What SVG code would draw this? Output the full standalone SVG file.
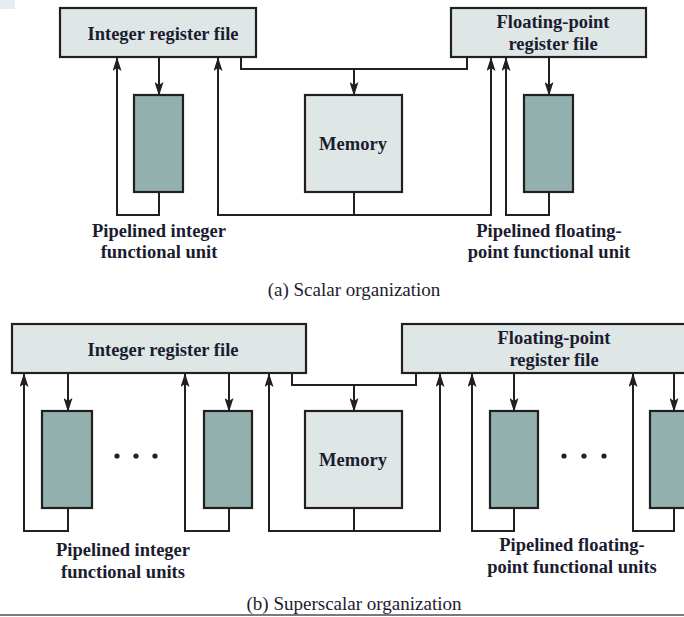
<svg xmlns="http://www.w3.org/2000/svg" width="684" height="617" viewBox="0 0 684 617">
<style>
.box{fill:#dfe7e6;stroke:#231f20;stroke-width:2.2}
.unit{fill:#92b1ae;stroke:#231f20;stroke-width:2.2}
.ln{fill:none;stroke:#231f20;stroke-width:2}
.arr{marker-end:url(#ah)}
.t{font-family:"Liberation Serif",serif;font-weight:bold;font-size:18.5px;fill:#1c1c30;text-anchor:middle}
.cap{font-family:"Liberation Serif",serif;font-size:19px;fill:#1c1c30;text-anchor:middle}
.dot{fill:#231f20}
</style>
<defs>
<marker id="ah" markerWidth="14" markerHeight="9" refX="13" refY="4.5" orient="auto" markerUnits="userSpaceOnUse" viewBox="0 0 14 9">
<path d="M0,0 L14,4.5 L0,9 L3,4.5 Z" fill="#231f20"/>
</marker>
</defs>
<rect x="0" y="0" width="15" height="9" fill="#e6ecf2"/>
<g id="connectors">
<!-- (a) -->
<path class="ln arr" d="M159,57 V95"/>
<path class="ln arr" d="M159,192 V215 H117 V58"/>
<path class="ln arr" d="M354,192 V215 H218 V58"/>
<path class="ln arr" d="M354,215 H491 V58"/>
<path class="ln" d="M241,57 V69 H467 V57"/>
<path class="ln arr" d="M354,69 V95"/>
<path class="ln arr" d="M549,192 V215 H506 V58"/>
<path class="ln arr" d="M549,57 V95"/>
<!-- (b) -->
<path class="ln arr" d="M68,373 V411"/>
<path class="ln arr" d="M68,508 V531 H24 V374"/>
<path class="ln arr" d="M229,373 V411"/>
<path class="ln arr" d="M229,508 V531 H185 V374"/>
<path class="ln arr" d="M354,508 V531 H269 V374"/>
<path class="ln arr" d="M354,531 H440 V374"/>
<path class="ln" d="M292,373 V385 H416 V373"/>
<path class="ln arr" d="M354,385 V411"/>
<path class="ln arr" d="M514,373 V411"/>
<path class="ln arr" d="M514,508 V531 H472 V374"/>
<path class="ln arr" d="M674,373 V411"/>
<path class="ln arr" d="M674,508 V531 H633 V374"/>
</g>
<g id="a-int-reg"><rect class="box" x="60" y="8" width="196" height="49"/><text class="t" x="163" y="40">Integer register file</text></g>
<g id="a-fp-reg"><rect class="box" x="451" y="8" width="195" height="49"/><text class="t" x="553" y="28">Floating-point</text><text class="t" x="553" y="50">register file</text></g>
<g id="a-int-unit"><rect class="unit" x="134" y="95" width="49" height="97"/></g>
<g id="a-memory"><rect class="box" x="305" y="95" width="97" height="97"/><text class="t" x="353" y="150">Memory</text></g>
<g id="a-fp-unit"><rect class="unit" x="524" y="95" width="49" height="97"/></g>
<g id="a-labels">
<text class="t" x="159" y="237">Pipelined integer</text>
<text class="t" x="159" y="258">functional unit</text>
<text class="t" x="549" y="237">Pipelined floating-</text>
<text class="t" x="549" y="258">point functional unit</text>
<text class="cap" x="354" y="296">(a) Scalar organization</text>
</g>
<g id="b-int-reg"><rect class="box" x="12" y="324" width="294" height="49"/><text class="t" x="163" y="356">Integer register file</text></g>
<g id="b-fp-reg"><rect class="box" x="402" y="324" width="290" height="49"/><text class="t" x="554" y="344">Floating-point</text><text class="t" x="554" y="366">register file</text></g>
<g id="b-int-unit1"><rect class="unit" x="42" y="411" width="50" height="97"/></g>
<g id="b-int-unit2"><rect class="unit" x="204" y="411" width="48" height="97"/></g>
<g id="b-memory"><rect class="box" x="305" y="411" width="97" height="97"/><text class="t" x="353" y="466">Memory</text></g>
<g id="b-fp-unit1"><rect class="unit" x="490" y="411" width="48" height="97"/></g>
<g id="b-fp-unit2"><rect class="unit" x="650" y="411" width="48" height="97"/></g>
<g id="b-dots">
<circle class="dot" cx="117" cy="456" r="2.6"/><circle class="dot" cx="136" cy="456" r="2.6"/><circle class="dot" cx="155" cy="456" r="2.6"/>
<circle class="dot" cx="564" cy="456" r="2.6"/><circle class="dot" cx="584" cy="456" r="2.6"/><circle class="dot" cx="604" cy="456" r="2.6"/>
</g>
<g id="b-labels">
<text class="t" x="123" y="556">Pipelined integer</text>
<text class="t" x="123" y="578">functional units</text>
<text class="t" x="572" y="551">Pipelined floating-</text>
<text class="t" x="572" y="573">point functional units</text>
<text class="cap" x="354" y="610">(b) Superscalar organization</text>
</g>
<rect x="0" y="614" width="684" height="2" fill="#7a7a7a"/>
</svg>
